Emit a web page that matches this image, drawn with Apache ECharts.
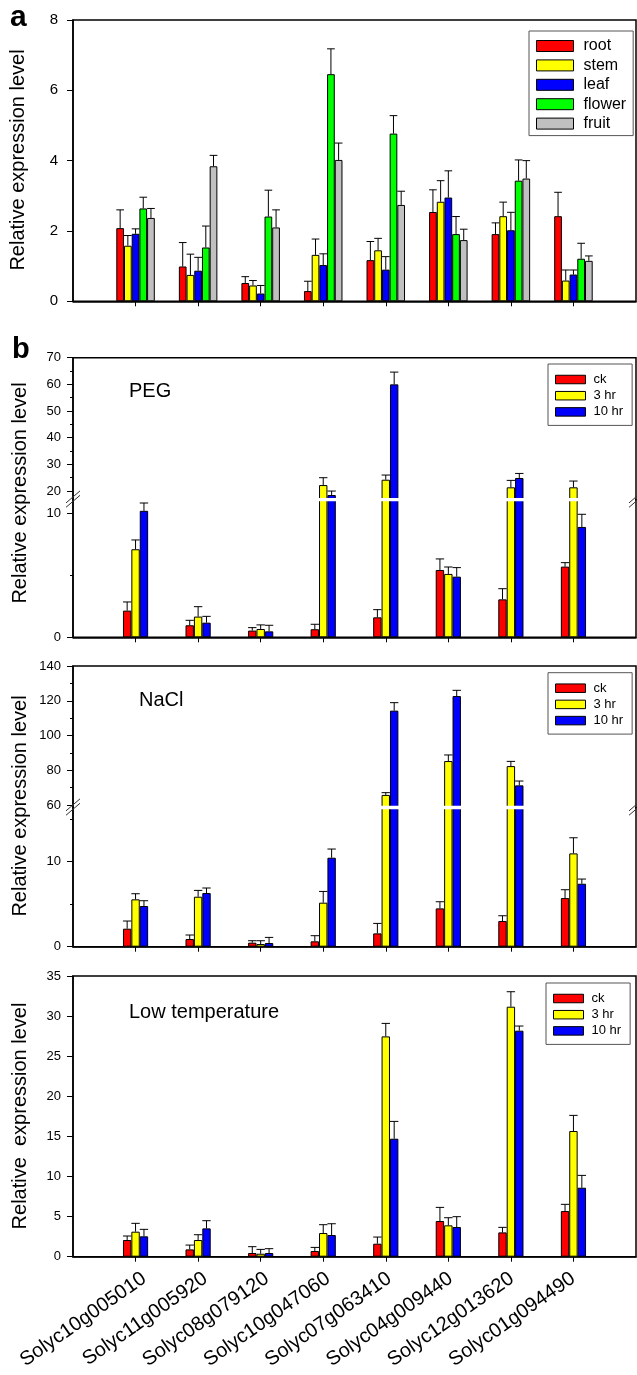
<!DOCTYPE html>
<html><head><meta charset="utf-8">
<script src="https://cdn.jsdelivr.net/npm/echarts@6/dist/echarts.min.js"></script>
<style>html,body{margin:0;padding:0;background:#fff}#c{width:637px;height:1375px}</style>
</head><body><div id="c"></div>
<script>
// ---------------- data ----------------
const genes = ['Solyc10g005010','Solyc11g005920','Solyc08g079120','Solyc10g047060','Solyc07g063410','Solyc04g009440','Solyc12g013620','Solyc01g094490'];
const tissues = ['root','stem','leaf','flower','fruit'];
const treatments = ['ck','3 hr','10 hr'];

// panel a (tissues)
const rootVal   = [2.08,0.99,0.52,0.29,1.17,2.54,1.91,2.42];
const rootErr   = [0.52,0.68,0.18,0.28,0.53,0.63,0.32,0.68];
const stemVal   = [1.58,0.75,0.45,1.32,1.45,2.83,2.42,0.59];
const stemErr   = [0.29,0.59,0.14,0.45,0.34,0.60,0.40,0.30];
const leafVal   = [1.92,0.87,0.22,1.03,0.90,2.95,2.02,0.76];
const leafErr   = [0.14,0.38,0.23,0.32,0.37,0.76,0.51,0.13];
const flowerVal = [2.64,1.53,2.41,6.46,4.77,1.91,3.43,1.21];
const flowerErr = [0.32,0.61,0.75,0.72,0.51,0.50,0.59,0.44];
const fruitVal  = [2.37,3.84,2.10,4.02,2.74,1.74,3.49,1.15];
const fruitErr  = [0.27,0.31,0.50,0.48,0.39,0.31,0.51,0.14];

// PEG
const pegCk    = [2.15,0.97,0.54,0.65,1.61,5.43,3.06,5.70];
const pegCkErr = [0.70,0.40,0.24,0.40,0.62,0.89,0.86,0.32];
const peg3     = [7.10,1.67,0.67,22.25,24.25,5.11,21.4,21.4];
const peg3Err  = [0.75,0.80,0.33,2.75,1.75,0.56,2.6,2.35];
const peg10    = [10.2,1.18,0.48,18.5,60.0,4.89,24.9,8.9];
const peg10Err = [0.63,0.51,0.49,1.5,4.6,0.73,1.7,1.02];

// NaCl
const naclCk    = [2.11,0.90,0.47,0.63,1.56,4.49,3.01,5.70];
const naclCkErr = [0.90,0.47,0.23,0.66,1.17,0.78,0.62,0.98];
const nacl3     = [5.55,5.86,0.31,5.16,65.8,85.3,82.4,10.94];
const nacl3Err  = [0.66,0.74,0.39,1.32,1.3,3.5,2.7,1.83];
const nacl10    = [4.77,6.29,0.43,10.43,114.3,122.7,71.3,7.38];
const nacl10Err = [0.62,0.59,0.66,1.02,4.6,3.3,2.5,0.55];

// Low temperature
const lowCk    = [2.08,0.91,0.46,0.71,1.62,4.45,3.03,5.69];
const lowCkErr = [0.50,0.54,0.79,0.45,0.83,1.70,0.63,0.84];
const low3     = [3.12,2.08,0.37,2.95,27.47,3.91,31.17,15.67];
const low3Err  = [1.04,0.66,0.54,1.04,1.62,0.95,1.87,1.95];
const low10    = [2.54,3.53,0.46,2.70,14.71,3.70,28.18,8.60];
const low10Err = [0.87,0.96,0.54,1.41,2.16,1.29,0.58,1.54];

// tick values
const aTicks = [0,2,4,6,8];
const pegUpTicks = [20,30,40,50,60,70];
const pegUpMinor = [25,35,45,55,65];
const pegLoTicks = [0,10];
const pegLoMinor = [5];
const naclUpTicks = [60,80,100,120,140];
const naclUpMinor = [70,90,110,130];
const naclLoTicks = [0,10];
const naclLoMinor = [5,15];
const lowTicks = [0,5,10,15,20,25,30,35];

// ---------------- layout / style ----------------
const FONT = '"Liberation Sans", Arial, Helvetica, sans-serif';
const L = 73, R = 636, W = R - L;
const aColors = ['#FF0000','#FFFF00','#0000FF','#00FF00','#C0C0C0'];
const bColors = ['#FF0000','#FFFF00','#0000FF'];

const grids = [], xAxes = [], yAxes = [], series = [], graphics = [], legends = [];
const padCats = ['', ...genes, ''];
const pad = a => ['-', ...a, '-'];

function addSeg(s) {
  const gi = grids.length;
  const h = (s.max - s.min) * s.ppu;
  const top = s.top != null ? s.top : s.bottom - h;
  grids.push({left: L, top: top, width: W, height: h, show: true, borderColor: '#000', borderWidth: 1.5});
  xAxes.push({type: 'category', gridIndex: gi, data: padCats, boundaryGap: false,
    axisLine: {show: s.showX, lineStyle: {color: '#000', width: 1.5}},
    axisTick: {show: s.showX, interval: (i) => i > 0 && i < padCats.length - 1, length: 5, lineStyle: {color: '#000', width: 1}},
    axisLabel: {show: false},
    splitLine: {show: false}});
  const yi = yAxes.length;
  yAxes.push({type: 'value', gridIndex: gi, min: s.min, max: s.max, position: 'left',
    axisLine: {show: true, lineStyle: {color: '#000', width: 1.5}},
    axisTick: {show: true, customValues: s.ticks, length: 6, lineStyle: {color: '#000', width: 1}},
    axisLabel: {customValues: s.ticks, fontSize: s.labelSize, margin: s.margin, color: '#000', fontFamily: FONT},
    splitLine: {show: false}});
  if (s.minor) {
    yAxes.push({type: 'value', gridIndex: gi, min: s.min, max: s.max, position: 'left',
      axisLine: {show: false},
      axisTick: {show: true, customValues: s.minor, length: 3, lineStyle: {color: '#000', width: 1}},
      axisLabel: {show: false}, splitLine: {show: false}});
  }
  return {gi: gi, xi: gi, yi: yi, top: top, h: h, min: s.min};
}

// label-only grid (gene names under the bottom panel, shifted like the original)
function addGeneLabels(seg, dx, margin) {
  const gi = grids.length;
  grids.push({left: L + dx, top: seg.top, width: W, height: seg.h, show: false});
  xAxes.push({type: 'category', gridIndex: gi, data: padCats, boundaryGap: false,
    axisLine: {show: false}, axisTick: {show: false}, splitLine: {show: false},
    axisLabel: {show: true, interval: 0, rotate: 35, fontSize: 20, color: '#000', fontFamily: FONT, margin: margin}});
  yAxes.push({type: 'value', gridIndex: gi, show: false, min: 0, max: 1});
}

function addBars(seg, defs, barW, cutBelowMin) {
  const n = defs.length;
  defs.forEach((d) => {
    const vals = cutBelowMin ? d.vals.map(v => v > seg.min ? v : '-') : d.vals;
    series.push({type: 'bar', name: d.name, xAxisIndex: seg.xi, yAxisIndex: seg.yi, data: pad(vals),
      barWidth: barW, barGap: '0%', silent: true,
      itemStyle: {color: d.color, borderColor: '#000', borderWidth: 1}});
  });
  defs.forEach((d, i) => {
    const off = (i - (n - 1) / 2) * barW;
    series.push({type: 'custom', xAxisIndex: seg.xi, yAxisIndex: seg.yi, silent: true, z: 3,
      encode: {x: 0, y: 1},
      data: d.vals.map((v, k) => [k + 1, v, d.errs[k]]),
      renderItem: function (params, api) {
        const cs = params.coordSys;
        const idx = api.value(0);
        const cx = api.coord([idx, api.value(1)])[0] + off;
        const y0 = api.coord([idx, api.value(1)])[1];
        const y1 = api.coord([idx, api.value(1) + api.value(2)])[1];
        const yTop = cs.y, yBot = cs.y + cs.height;
        if (y1 > yBot || y0 < yTop) return null;
        const a = Math.min(y0, yBot), b = Math.max(y1, yTop);
        const children = [{type: 'line', shape: {x1: cx, y1: a, x2: cx, y2: b}, style: {stroke: '#000', lineWidth: 1}}];
        if (y1 >= yTop) children.push({type: 'line', shape: {x1: cx - barW / 2, y1: y1, x2: cx + barW / 2, y2: y1}, style: {stroke: '#000', lineWidth: 1}});
        return {type: 'group', children: children};
      }});
  });
}

function addBreak(up, lo) {
  const yA = up.top + up.h, yB = lo.top;
  const y0 = Math.min(yA, yB) - 1.7, y1 = Math.max(yA, yB) + 1.7;
  graphics.push({type: 'rect', z: 100, shape: {x: L + 1, y: y0, width: W - 2, height: y1 - y0}, style: {fill: '#fff'}});
  const mid = (yA + yB) / 2 - 0.5;
  [L, R].forEach(x => {
    [-2.2, 2.2].forEach(dy => graphics.push({type: 'line', z: 101,
      shape: {x1: x - 7, y1: mid + dy + 6, x2: x + 7, y2: mid + dy - 6}, style: {stroke: '#333', lineWidth: 1}}));
  });
}

function addLegend(names, left, top, big) {
  legends.push({orient: 'vertical', left: left, top: top, data: names, icon: 'rect', selectedMode: false,
    itemWidth: big ? 37 : 30, itemHeight: big ? 11 : 8.5, itemGap: big ? 3.4 : 3.2,
    padding: big ? [7, 7, 4, 7] : [9, 9, 7, 7],
    borderColor: '#555', borderWidth: 1, backgroundColor: '#fff',
    itemStyle: {borderColor: '#000', borderWidth: 1},
    textStyle: {fontSize: big ? 16 : 13, color: '#000', fontFamily: FONT, padding: [0, 0, 0, big ? 5 : 3]}});
}

function text(str, x, y, size, opts) {
  opts = opts || {};
  graphics.push({type: 'text', x: x, y: y, rotation: opts.rot || 0, z: 110,
    style: {text: str, fill: '#000', font: (opts.bold ? 'bold ' : '') + size + 'px ' + FONT,
      align: opts.align || 'left', verticalAlign: 'middle'}});
}

// ---------------- panel a ----------------
const segA = addSeg({top: 20, min: 0, max: 8, ppu: 35.16, ticks: aTicks, labelSize: 15, margin: 15, showX: true});
addBars(segA, [
  {name: tissues[0], color: aColors[0], vals: rootVal, errs: rootErr},
  {name: tissues[1], color: aColors[1], vals: stemVal, errs: stemErr},
  {name: tissues[2], color: aColors[2], vals: leafVal, errs: leafErr},
  {name: tissues[3], color: aColors[3], vals: flowerVal, errs: flowerErr},
  {name: tissues[4], color: aColors[4], vals: fruitVal, errs: fruitErr}], 7.7, false);
addLegend(tissues, 529, 31, true);
text('a', 10, 18, 30, {bold: true});
text('Relative expression level', 18, 160, 20, {rot: Math.PI / 2, align: 'center'});

// ---------------- PEG ----------------
const bDefs = (v1, e1, v2, e2, v3, e3) => [
  {name: treatments[0], color: bColors[0], vals: v1, errs: e1},
  {name: treatments[1], color: bColors[1], vals: v2, errs: e2},
  {name: treatments[2], color: bColors[2], vals: v3, errs: e3}];

const pegUp = addSeg({top: 357.7, min: 16.8, max: 70, ppu: 2.667, ticks: pegUpTicks, minor: pegUpMinor, labelSize: 13, margin: 12, showX: false});
const pegLo = addSeg({bottom: 637.3, min: 0, max: 11.1, ppu: 12.4, ticks: pegLoTicks, minor: pegLoMinor, labelSize: 13, margin: 12, showX: true});
addBars(pegUp, bDefs(pegCk, pegCkErr, peg3, peg3Err, peg10, peg10Err), 8.4, true);
addBars(pegLo, bDefs(pegCk, pegCkErr, peg3, peg3Err, peg10, peg10Err), 8.4, false);
addBreak(pegUp, pegLo);
addLegend(treatments, 548, 364, false);
text('b', 12, 350, 29, {bold: true});
text('PEG', 129, 391, 20);
text('Relative expression level', 20, 493, 20, {rot: Math.PI / 2, align: 'center'});

// ---------------- NaCl ----------------
const naUp = addSeg({top: 666, min: 58.6, max: 140, ppu: 1.7375, ticks: naclUpTicks, minor: naclUpMinor, labelSize: 13, margin: 12, showX: false});
const naLo = addSeg({bottom: 946.7, min: 0, max: 16.3, ppu: 8.53, ticks: naclLoTicks, minor: naclLoMinor, labelSize: 13, margin: 12, showX: true});
addBars(naUp, bDefs(naclCk, naclCkErr, nacl3, nacl3Err, nacl10, nacl10Err), 8.4, true);
addBars(naLo, bDefs(naclCk, naclCkErr, nacl3, nacl3Err, nacl10, nacl10Err), 8.4, false);
addBreak(naUp, naLo);
addLegend(treatments, 548, 672.7, false);
text('NaCl', 139, 700, 20);
text('Relative expression level', 20, 806, 20, {rot: Math.PI / 2, align: 'center'});

// ---------------- Low temperature ----------------
const lowSeg = addSeg({top: 976, min: 0, max: 35, ppu: 8.02, ticks: lowTicks, labelSize: 13, margin: 12, showX: true});
addBars(lowSeg, bDefs(lowCk, lowCkErr, low3, low3Err, low10, low10Err), 8.4, false);
addGeneLabels(lowSeg, 10, 20);
addLegend(treatments, 546, 983, false);
text('Low temperature', 129, 1012, 20);
text('Relative  expression level', 20, 1116, 20, {rot: Math.PI / 2, align: 'center'});

const chart = echarts.init(document.getElementById('c'), null, {renderer: 'canvas'});
chart.setOption({
  animation: false,
  backgroundColor: '#fff',
  textStyle: {fontFamily: FONT},
  grid: grids, xAxis: xAxes, yAxis: yAxes, series: series, legend: legends,
  graphic: {elements: graphics}
});
</script></body></html>
